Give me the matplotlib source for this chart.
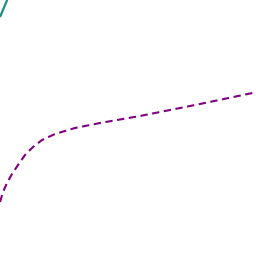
import matplotlib
matplotlib.use("Agg")
import matplotlib.pyplot as plt

# series values
teal_x = [0, 8]
teal_y = [239, 258]

purple_x = [0, 3, 7, 12, 18, 25, 33, 42, 55, 75, 100, 140, 200, 262]
purple_y = [54, 64, 73, 82, 91, 101, 109, 116, 122, 128, 133, 140, 152, 165]

fig = plt.figure(figsize=(2.56, 2.56), dpi=100)
ax = fig.add_axes([0, 0, 1, 1])
ax.plot(teal_x, teal_y, color="#1a9080", lw=1.6, solid_capstyle="butt")
ax.plot(purple_x, purple_y, color="#800080", lw=1.5, linestyle=(0, (3.5, 2.2)))
ax.set_xlim(0, 256)
ax.set_ylim(0, 256)
ax.axis("off")
fig.savefig("out.png", dpi=100)
